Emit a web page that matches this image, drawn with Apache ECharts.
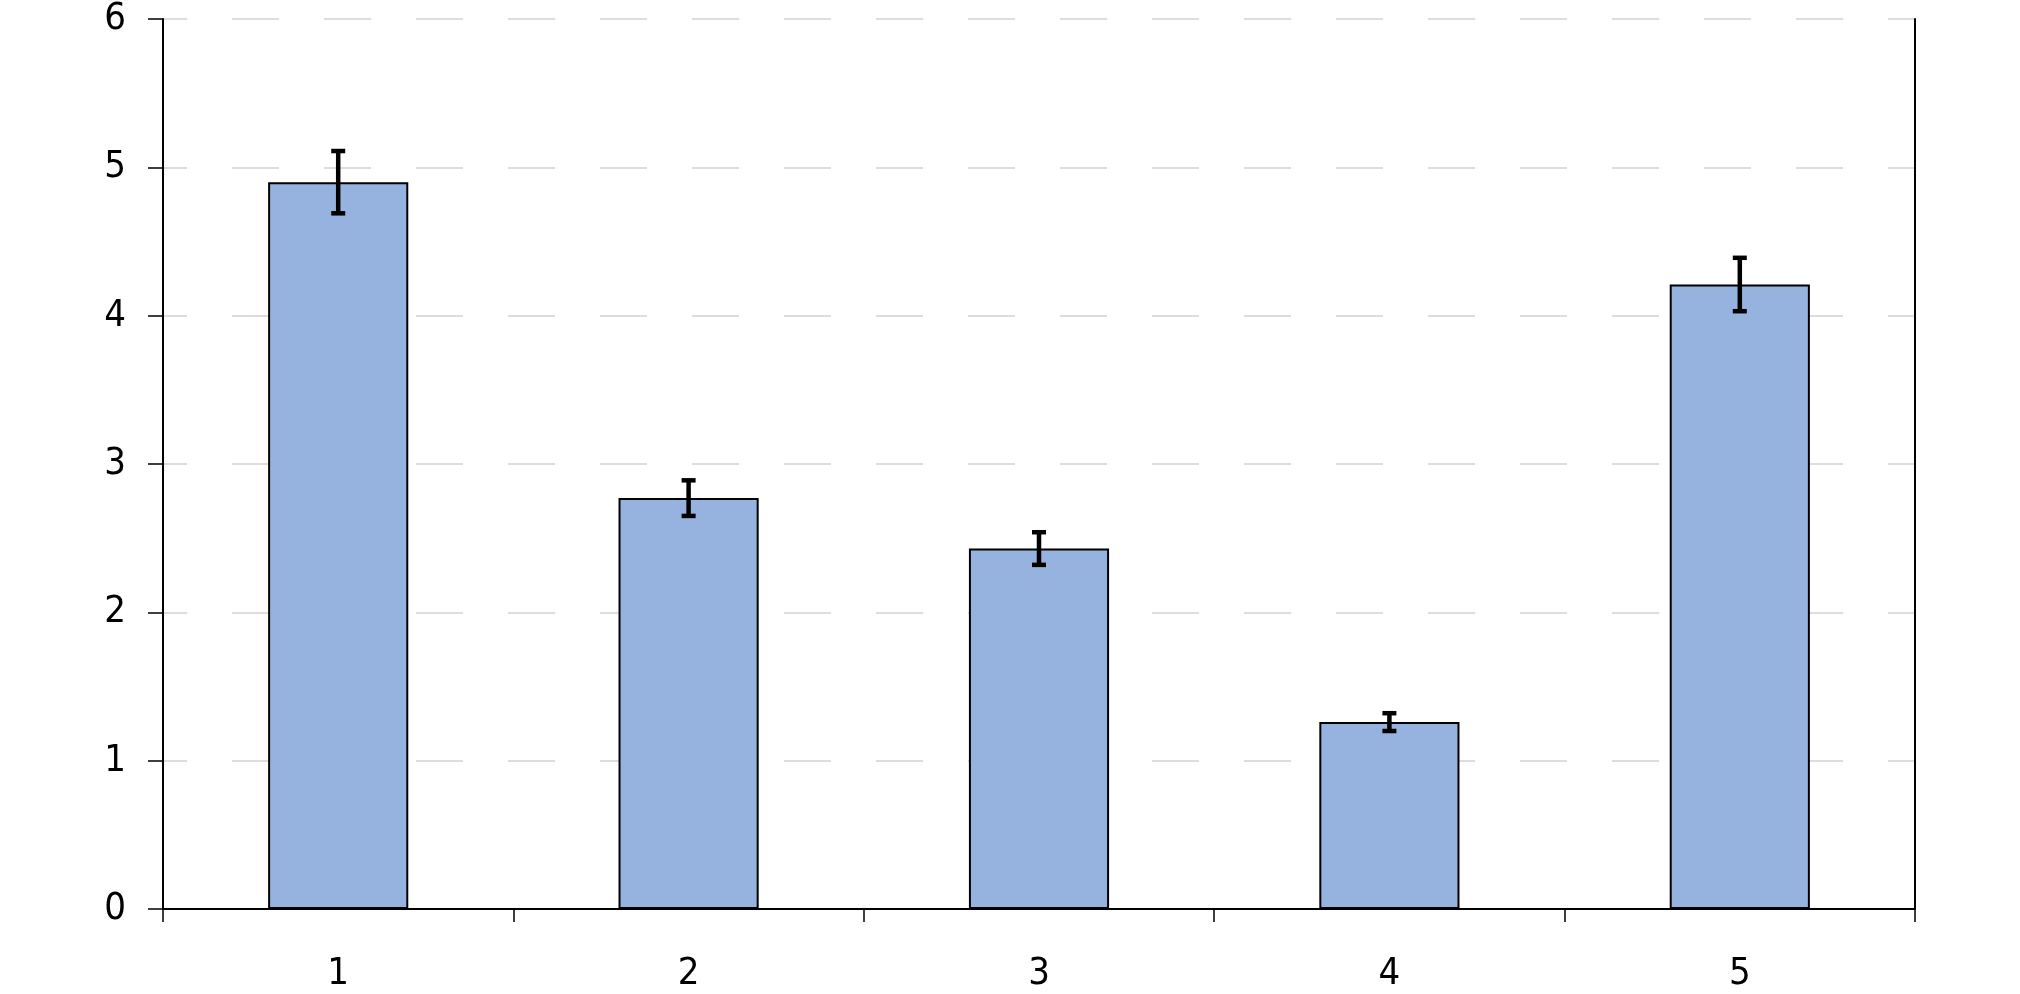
<!DOCTYPE html>
<html>
<head>
<meta charset="utf-8">
<script src="https://cdn.jsdelivr.net/npm/echarts@6/dist/echarts.min.js"></script>
<style>
html,body{margin:0;padding:0;background:#fff;}
#chart{width:2020px;height:994px;}
</style>
</head>
<body>
<div id="chart"></div>
<script>
const categories = ['1', '2', '3', '4', '5'];
const values = [4.90, 2.77, 2.43, 1.26, 4.21];
const errors = [0.21, 0.12, 0.11, 0.06, 0.18];
const yTicks = [0, 1, 2, 3, 4, 5, 6];

const FONT = '"DejaVu Sans Condensed", "Liberation Sans Narrow", "Noto Sans", sans-serif';

const chart = echarts.init(document.getElementById('chart'), null, {renderer: 'canvas'});

const errData = values.map((v, i) => [i, v - errors[i], v + errors[i]]);

chart.setOption({
  animation: false,
  backgroundColor: '#ffffff',
  grid: {left: 163, right: 105, top: 17, bottom: 85, containLabel: false},
  xAxis: {
    type: 'category',
    data: categories,
    boundaryGap: true,
    axisLine: {show: true, lineStyle: {color: '#000', width: 2}},
    axisTick: {show: true, length: 13, alignWithLabel: false, lineStyle: {color: '#000', width: 1.5}},
    axisLabel: {margin: 46, fontFamily: FONT, fontSize: 38, color: '#000'},
    splitLine: {show: false}
  },
  yAxis: [{
    type: 'value',
    min: yTicks[0],
    max: yTicks[yTicks.length - 1],
    interval: 1,
    axisLine: {show: true, lineStyle: {color: '#000', width: 2}},
    axisTick: {show: true, length: 15, lineStyle: {color: '#000', width: 1.5}},
    axisLabel: {margin: 37, fontFamily: FONT, fontSize: 38, color: '#000'},
    splitLine: {show: true, lineStyle: {color: '#d2d2d2', width: 1.5, type: [47, 45], dashOffset: 23}}
  }, {
    type: 'value',
    position: 'right',
    min: yTicks[0],
    max: yTicks[yTicks.length - 1],
    interval: 1,
    axisLine: {show: true, lineStyle: {color: '#000', width: 2}},
    axisTick: {show: false},
    axisLabel: {show: false},
    splitLine: {show: false}
  }],
  series: [{
    type: 'bar',
    data: values,
    barWidth: '40%',
    itemStyle: {color: '#95b3de', borderColor: '#000', borderWidth: 2},
    z: 2
  }, {
    type: 'custom',
    data: errData,
    z: 5,
    renderItem: function (params, api) {
      const x = api.value(0);
      const lo = api.coord([x, api.value(1)]);
      const hi = api.coord([x, api.value(2)]);
      const cx = lo[0];
      const hw = 7;
      const st = {stroke: '#000', lineWidth: 4.5};
      return {
        type: 'group',
        children: [
          {type: 'line', shape: {x1: cx, y1: hi[1], x2: cx, y2: lo[1]}, style: st},
          {type: 'line', shape: {x1: cx - hw, y1: hi[1], x2: cx + hw, y2: hi[1]}, style: st},
          {type: 'line', shape: {x1: cx - hw, y1: lo[1], x2: cx + hw, y2: lo[1]}, style: st}
        ]
      };
    }
  }]
});
</script>
</body>
</html>
